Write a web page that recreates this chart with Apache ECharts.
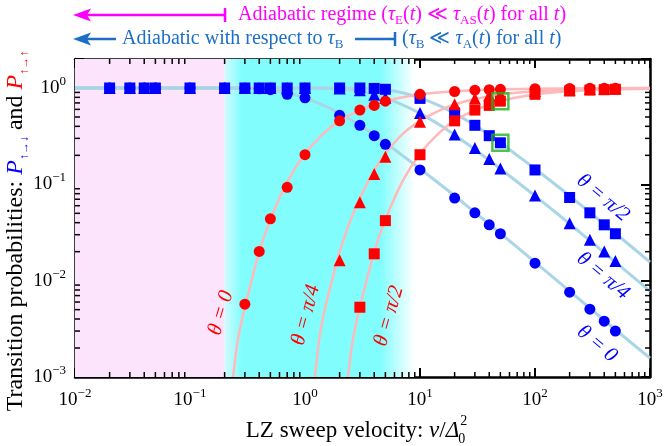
<!DOCTYPE html>
<html>
<head>
<meta charset="utf-8">
<title>LZ transition probabilities</title>
<script src="https://cdn.jsdelivr.net/npm/echarts@6/dist/echarts.min.js"></script>
</head>
<body style="margin: 0">
<div id="container" style="width: 666px; height: 446px"></div>
<script type="text/javascript">

    // sweep velocities v/Delta0^2 of the simulated points
    const vel = [0.02, 0.03, 0.04, 0.05, 0.1, 0.2, 0.3, 0.4, 0.5, 0.7, 1, 2, 3, 4, 5,
                 10, 20, 30, 40, 50, 100, 200, 300, 400, 500];

    // P(up->down), blue
    const blueTheta0   = [1, 1, 1, 1, 1, 1, 0.995, 0.98, 0.96, 0.86, 0.79, 0.52, 0.41, 0.32, 0.26,
                          0.141, 0.072, 0.0506, 0.038, 0.0307, 0.0152, 0.0076, 0.00506, 0.0038, 0.003];
    const blueThetaQ   = [1, 1, 1, 1, 1, 1, 1, 1, 1, 1, 1, 0.99, 0.95, 0.85, 0.79,
                          0.55, 0.33, 0.238, 0.183, 0.146, 0.0764, 0.0395, 0.0266, 0.0201, 0.016];
    const blueThetaH   = [1, 1, 1, 1, 1, 1, 1, 1, 1, 1, 1, 1, 1, 0.99, 0.97,
                          0.78, 0.55, 0.41, 0.32, 0.27, 0.141, 0.073, 0.0506, 0.038, 0.0307];
    // P(up->up), red (null = below 1e-3)
    const redTheta0    = [null, null, null, null, null, null, 0.0057, 0.0201, 0.0438, 0.093, 0.203, 0.456, 0.59, 0.66, 0.73,
                          0.86, 0.92, 0.95, 0.96, 0.97, 0.985, 0.99, 0.993, 0.995, 0.996];
    const redThetaQ    = [null, null, null, null, null, null, null, null, null, null, null, 0.0163, 0.065, 0.128, 0.193,
                          0.445, 0.678, 0.78, 0.84, 0.86, 0.93, 0.96, 0.975, 0.98, 0.985];
    const redThetaH    = [null, null, null, null, null, null, null, null, null, null, null, null, 0.0053, 0.019, 0.042,
                          0.203, 0.456, 0.59, 0.66, 0.73, 0.86, 0.93, 0.95, 0.96, 0.97];

    // highlighted points (green boxes)
    const boxedV = [50, 50];
    const boxedP = [0.73, 0.27];

    // theory curves
    const curveBlue0X = [0.01, 0.1, 0.2, 0.3, 0.4, 0.5, 0.7, 1, 1.5, 2, 3, 5, 7, 10, 20, 50, 100, 200, 500, 1000];
    const curveBlue0Y = [1, 1, 0.9996, 0.995, 0.98, 0.957, 0.894, 0.79, 0.65, 0.544, 0.41, 0.27, 0.2, 0.145, 0.076, 0.031, 0.0156, 0.0078, 0.0031, 0.00157];
    const curveBlueQX = [0.01, 0.5, 1, 1.5, 2, 3, 4, 5, 7, 10, 15, 20, 30, 50, 100, 200, 500, 1000];
    const curveBlueQY = [1, 1, 0.9996, 0.995, 0.98, 0.93, 0.86, 0.79, 0.67, 0.545, 0.41, 0.325, 0.23, 0.145, 0.076, 0.039, 0.0156, 0.0078];
    const curveBlueHX = [0.01, 1, 2, 3, 4, 5, 7, 10, 15, 20, 30, 50, 70, 100, 200, 500, 1000];
    const curveBlueHY = [1, 1, 0.9996, 0.995, 0.98, 0.957, 0.894, 0.79, 0.65, 0.544, 0.41, 0.27, 0.2, 0.145, 0.076, 0.031, 0.0156];

    const curveRed0X = [0.237, 0.26, 0.3, 0.35, 0.4, 0.5, 0.7, 1, 1.5, 2, 3, 5, 10, 20, 50, 100, 300, 1000];
    const curveRed0Y = [0.001, 0.0024, 0.0053, 0.011, 0.02, 0.043, 0.106, 0.208, 0.35, 0.456, 0.59, 0.73, 0.855, 0.924, 0.969, 0.984, 0.995, 0.998];
    const curveRedQX = [1.22, 1.35, 1.5, 1.75, 2, 2.5, 3, 4, 5, 7, 10, 15, 20, 30, 50, 100, 200, 500, 1000];
    const curveRedQY = [0.001, 0.0028, 0.0053, 0.011, 0.02, 0.043, 0.072, 0.14, 0.208, 0.33, 0.456, 0.59, 0.675, 0.77, 0.855, 0.924, 0.961, 0.984, 0.992];
    const curveRedHX = [2.37, 2.6, 3, 3.5, 4, 5, 7, 10, 15, 20, 30, 50, 100, 200, 500, 1000];
    const curveRedHY = [0.001, 0.0024, 0.0053, 0.011, 0.02, 0.043, 0.106, 0.208, 0.35, 0.456, 0.59, 0.73, 0.855, 0.924, 0.969, 0.984];

    // axis ranges and regime borders
    const xMin = 0.01, xMax = 1000, yMin = 0.001, yMax = 2;
    const pinkEnd = 0.2, cyanEnd = 9;
    const xDecades = [0.01, 0.1, 1, 10, 100];
    const yDecades = [0.001, 0.01, 0.1, 1];
    const minorSteps = [2, 3, 4, 5, 6, 7, 8, 9];

    const SERIF = 'Liberation Serif';
    const BLUE = '#0000ff', RED = '#ff0000';
    const LBLUE = '#a9d6e6', LPINK = '#ffb9bb';
    const MAG = '#ff00ff', ABLUE = '#1c6fc4';

    function pairs(xs, ys) {
        let out = [];
        xs.forEach(function (x, i) { if (ys[i] != null) out.push([x, ys[i]]); });
        return out;
    }

    let xMinor = [], yMinor = [];
    xDecades.forEach(function (d) { minorSteps.forEach(function (s) { xMinor.push([d * s, 1]); }); });
    yDecades.forEach(function (d) { minorSteps.forEach(function (s) { if (d * s < yMax) yMinor.push([1, d * s]); }); });

    function powLabel(value) {
        let e = Math.log10(value);
        if (Math.abs(e - Math.round(e)) > 1e-6) return '';
        e = Math.round(e);
        return '{b|10}{s|' + (e < 0 ? '\u2212' + (-e) : e) + '}';
    }
    const labelRich = {
        b: {fontFamily: SERIF, fontSize: 19, color: '#000', lineHeight: 26},
        s: {fontFamily: SERIF, fontSize: 13, color: '#000', lineHeight: 13, verticalAlign: 'top'}
    };

    function axisCommon(extra) {
        return Object.assign({
            type: 'log', logBase: 10,
            axisLine: {show: true, onZero: false, lineStyle: {color: '#000', width: 2.5}},
            axisTick: {show: true, inside: true, length: 9, lineStyle: {color: '#000', width: 2}},
            splitLine: {show: false}
        }, extra);
    }

    // measure text to place the stacked sub/superscript of the x title
    let ctx = document.createElement('canvas').getContext('2d');
    function textWidth(font, s) { ctx.font = font; return ctx.measureText(s).width; }
    const titleSize = 23;
    const xTitleW = textWidth(titleSize + 'px ' + SERIF, 'LZ sweep velocity: ') +
                    textWidth('italic ' + titleSize + 'px ' + SERIF, 'v') +
                    textWidth(titleSize + 'px ' + SERIF, '/') +
                    textWidth('italic ' + titleSize + 'px ' + SERIF, '\u0394');
    const xTitleLeft = 357 - (xTitleW + 9) / 2;

    let dom = document.getElementById('container');
    let chart = echarts.init(dom);

    const tickStyle = {stroke: '#000', lineWidth: 1.5};

    function markerSeries(name, ys, symbol, size, color) {
        return {
            name: name, type: 'scatter', data: pairs(vel, ys),
            symbol: symbol, symbolSize: size, z: 5,
            itemStyle: {color: color, opacity: 1}
        };
    }
    function curveSeries(xs, ys, color, width) {
        return {
            type: 'line', data: pairs(xs, ys), showSymbol: false, smooth: 0.3,
            lineStyle: {color: color, width: width}, z: 3, silent: true
        };
    }
    function annRich(color) {
        return {
            n: {fontFamily: SERIF, fontSize: 20, fill: color, lineHeight: 25},
            i: {fontFamily: SERIF, fontSize: 20, fontStyle: 'italic', fill: color, lineHeight: 25},
            s: {fontFamily: SERIF, fontSize: 13, fill: color, lineHeight: 12, verticalAlign: 'bottom'}
        };
    }
    function curveLabel(text, x, y, deg, color) {
        return {type: 'text', x: x, y: y, z: 100, rotation: deg * Math.PI / 180, style: {
            text: text, fontFamily: SERIF, fontSize: 21, fontStyle: 'italic', fill: color,
            align: 'center', verticalAlign: 'middle'}};
    }

    chart.setOption({
        animation: false,
        grid: {left: 75, right: 16, top: 59, bottom: 69},
        xAxis: [
            axisCommon({min: xMin, max: xMax, position: 'bottom',
                axisLabel: {formatter: powLabel, rich: labelRich, margin: 10}}),
            axisCommon({min: xMin, max: xMax, position: 'top', axisLabel: {show: false}})
        ],
        yAxis: [
            axisCommon({min: yMin, max: yMax, position: 'left',
                axisLabel: {formatter: powLabel, rich: labelRich, margin: 9}}),
            axisCommon({min: yMin, max: yMax, position: 'right', axisLabel: {show: false}})
        ],
        series: [
            {   // regime backgrounds
                type: 'line', data: [], z: 0,
                markArea: {
                    silent: true,
                    data: [
                        [{xAxis: xMin, itemStyle: {color: '#fce4fc', opacity: 1}}, {xAxis: pinkEnd}],
                        [{xAxis: pinkEnd, itemStyle: {opacity: 1,
                            color: new echarts.graphic.LinearGradient(0, 0, 1, 0, [
                                {offset: 0, color: '#d2fbff'},
                                {offset: 0.09, color: '#82fdfd'},
                                {offset: 0.82, color: '#82fdfd'},
                                {offset: 1, color: '#ffffff'}
                            ])}}, {xAxis: cyanEnd}]
                    ]
                }
            },
            curveSeries(curveBlue0X, curveBlue0Y, LBLUE, 3),
            curveSeries(curveBlueQX, curveBlueQY, LBLUE, 3),
            curveSeries(curveBlueHX, curveBlueHY, LBLUE, 3),
            curveSeries(curveRed0X, curveRed0Y, LPINK, 2.5),
            curveSeries(curveRedQX, curveRedQY, LPINK, 2.5),
            curveSeries(curveRedHX, curveRedHY, LPINK, 2.5),
            markerSeries('b0', blueTheta0, 'circle', 11, BLUE),
            markerSeries('bq', blueThetaQ, 'triangle', 12, BLUE),
            markerSeries('bh', blueThetaH, 'rect', 11, BLUE),
            markerSeries('r0', redTheta0, 'circle', 11, RED),
            markerSeries('rq', redThetaQ, 'triangle', 12, RED),
            markerSeries('rh', redThetaH, 'rect', 11, RED),
            {
                type: 'scatter', data: pairs(boxedV, boxedP), symbol: 'rect', symbolSize: 16, z: 6,
                itemStyle: {color: 'rgba(0,0,0,0)', borderColor: '#1fb51f', borderWidth: 2.5}
            },
            {   // minor ticks of the x axes
                type: 'custom', data: xMinor, z: 7, silent: true,
                renderItem: function (params, api) {
                    let b = api.coord([api.value(0), yMin]);
                    let t = api.coord([api.value(0), yMax]);
                    return {type: 'group', children: [
                        {type: 'line', shape: {x1: b[0], y1: b[1], x2: b[0], y2: b[1] - 5}, style: tickStyle},
                        {type: 'line', shape: {x1: t[0], y1: t[1], x2: t[0], y2: t[1] + 5}, style: tickStyle}
                    ]};
                }
            },
            {   // minor ticks of the y axes
                type: 'custom', data: yMinor, z: 7, silent: true,
                renderItem: function (params, api) {
                    let l = api.coord([xMin, api.value(1)]);
                    let r = api.coord([xMax, api.value(1)]);
                    return {type: 'group', children: [
                        {type: 'line', shape: {x1: l[0], y1: l[1], x2: l[0] + 5, y2: l[1]}, style: tickStyle},
                        {type: 'line', shape: {x1: r[0], y1: r[1], x2: r[0] - 5, y2: r[1]}, style: tickStyle}
                    ]};
                }
            }
        ],
        graphic: [
            // magenta arrow and text
            {type: 'line', shape: {x1: 84, y1: 15, x2: 225, y2: 15}, style: {stroke: MAG, lineWidth: 2.5}},
            {type: 'line', shape: {x1: 225, y1: 8, x2: 225, y2: 22}, style: {stroke: MAG, lineWidth: 2.5}},
            {type: 'polygon', shape: {points: [[73, 15], [91, 8.5], [87, 15], [91, 21.5]]}, style: {fill: MAG}},
            {type: 'text', x: 238, y: 15, style: {
                text: '{n|Adiabatic regime (}{i|\u03c4}{s|E}{n|(}{i|t}{n|) \u226a }{i|\u03c4}{s|AS}{n|(}{i|t}{n|) for all }{i|t}{n|)}',
                verticalAlign: 'middle', rich: annRich(MAG)}},
            // blue arrow and text
            {type: 'line', shape: {x1: 84, y1: 39, x2: 116, y2: 39}, style: {stroke: ABLUE, lineWidth: 2.5}},
            {type: 'polygon', shape: {points: [[73, 39], [91, 32.5], [87, 39], [91, 45.5]]}, style: {fill: ABLUE}},
            {type: 'text', x: 122, y: 39, style: {
                text: '{n|Adiabatic with respect to }{i|\u03c4}{s|B}',
                verticalAlign: 'middle', rich: annRich(ABLUE)}},
            {type: 'line', shape: {x1: 355, y1: 39, x2: 395, y2: 39}, style: {stroke: ABLUE, lineWidth: 2.5}},
            {type: 'line', shape: {x1: 395, y1: 32, x2: 395, y2: 46}, style: {stroke: ABLUE, lineWidth: 2.5}},
            {type: 'text', x: 402, y: 39, style: {
                text: '{n|(}{i|\u03c4}{s|B}{n| \u226a }{i|\u03c4}{s|A}{n|(}{i|t}{n|) for all }{i|t}{n|)}',
                verticalAlign: 'middle', rich: annRich(ABLUE)}},
            // y axis title
            {type: 'text', x: 16, y: 231, rotation: Math.PI / 2, style: {
                text: '{n|Transition probabilities: }{bp|P}{bs|\u2191\u2192\u2193}{n| and }{rp|P}{rs|\u2191\u2192\u2191}',
                align: 'center', verticalAlign: 'middle',
                rich: {
                    n: {fontFamily: SERIF, fontSize: 24, fill: '#000', lineHeight: 30},
                    bp: {fontFamily: SERIF, fontSize: 24, fontStyle: 'italic', fill: BLUE, lineHeight: 30},
                    bs: {fontFamily: SERIF, fontSize: 12, fill: BLUE, lineHeight: 14, verticalAlign: 'bottom'},
                    rp: {fontFamily: SERIF, fontSize: 24, fontStyle: 'italic', fill: RED, lineHeight: 30},
                    rs: {fontFamily: SERIF, fontSize: 12, fill: RED, lineHeight: 14, verticalAlign: 'bottom'}
                }}},
            // x axis title
            {type: 'text', x: xTitleLeft, y: 431, style: {
                text: '{n|LZ sweep velocity: }{i|v}{n|/}{i|\u0394}',
                verticalAlign: 'middle',
                rich: {
                    n: {fontFamily: SERIF, fontSize: titleSize, fill: '#000', lineHeight: 28},
                    i: {fontFamily: SERIF, fontSize: titleSize, fontStyle: 'italic', fill: '#000', lineHeight: 28}
                }}},
            {type: 'text', x: xTitleLeft + xTitleW + 1, y: 421, style: {text: '2', fontFamily: SERIF, fontSize: 14, fill: '#000', verticalAlign: 'middle'}},
            {type: 'text', x: xTitleLeft + xTitleW - 1, y: 439, style: {text: '0', fontFamily: SERIF, fontSize: 14, fill: '#000', verticalAlign: 'middle'}},
            // curve labels, red
            curveLabel('\u03b8 = 0', 221, 313, 73, RED),
            curveLabel('\u03b8 = \u03c0/4', 306, 315, 75, RED),
            curveLabel('\u03b8 = \u03c0/2', 389, 316, 74, RED),
            // curve labels, blue
            curveLabel('\u03b8 = \u03c0/2', 603, 198, -40, BLUE),
            curveLabel('\u03b8 = \u03c0/4', 603, 276, -40, BLUE),
            curveLabel('\u03b8 = 0', 597, 344, -40, BLUE)
        ]
    });

</script>
</body>
</html>
